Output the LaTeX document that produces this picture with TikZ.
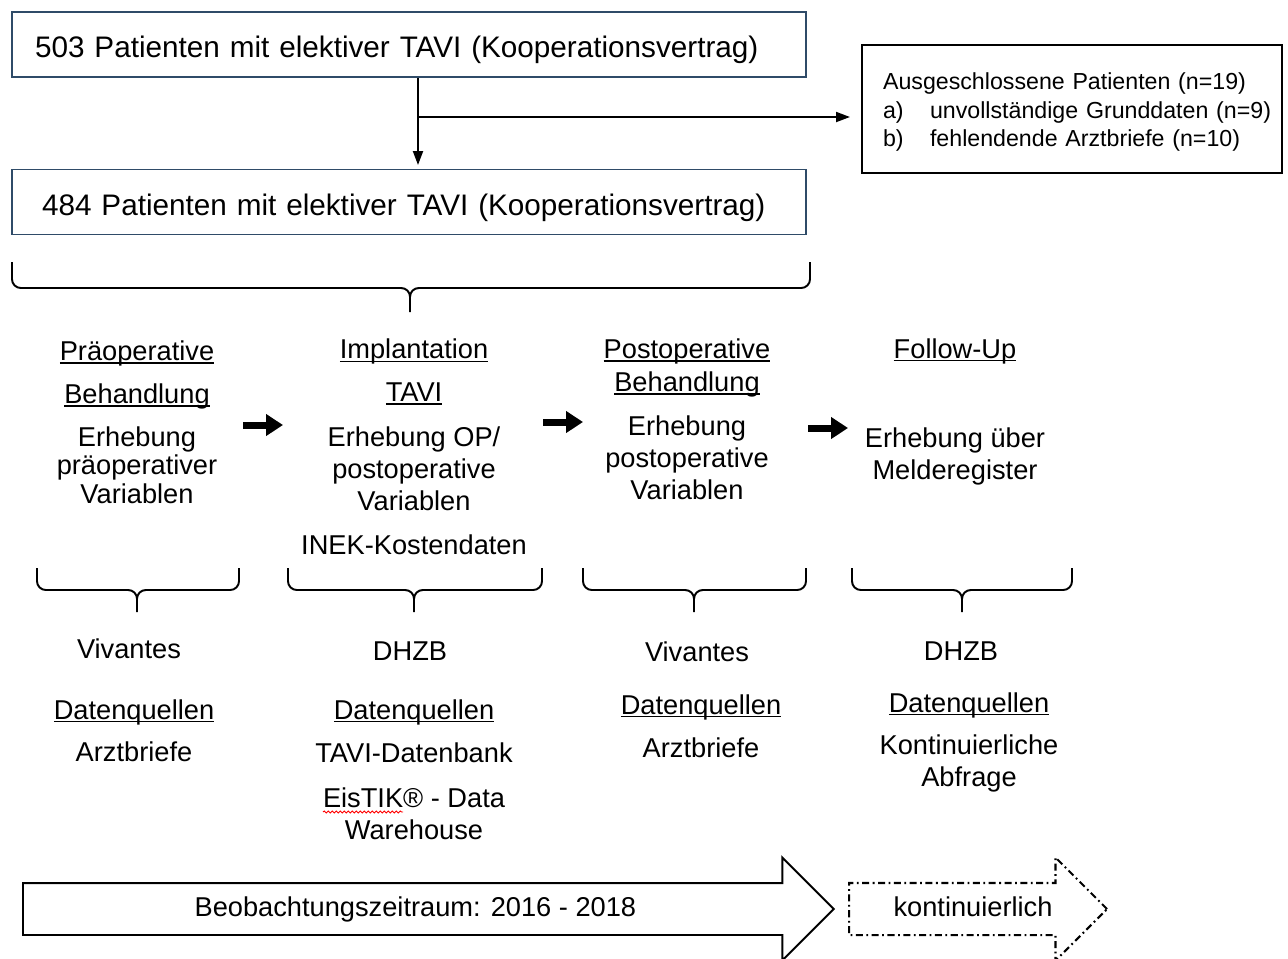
\documentclass[tikz,border=0pt]{standalone}
\usepackage{fontspec}
\setmainfont{Liberation Sans}
\usetikzlibrary{arrows.meta, shapes.arrows, decorations.pathmorphing, positioning}

\definecolor{boxblue}{HTML}{2F4B68}
\newcommand{\ftop}{\fontsize{16.9}{20}\selectfont}
\newcommand{\fbody}{\fontsize{15.5}{18.2}\selectfont}
\newcommand{\fsmall}{\fontsize{13.2}{16.1}\selectfont}
\newcommand{\uln}[1]{\setbox0\hbox{#1}\rlap{\rule[-1.8pt]{\wd0}{0.8pt}}\box0}
\newcommand{\groupbrace}[6]{%
  \draw[bracepath] (#1,#4) -- (#1,#5) -- (#3,#5) -- (#3,#6)
                   (#2,#4) -- (#2,#5) -- (#3,#5) -- (#3,#6);}

\begin{document}
\begin{tikzpicture}[
            x=0.02cm, y=-0.02cm,
            font=\fbody,
            % Styles
            topbox/.style={rectangle, draw=boxblue, line width=1.1pt, minimum width=15.88cm, minimum height=1.3cm, text height=15pt, text depth=0pt, align=left, font=\ftop},
            exclbox/.style={rectangle, draw, line width=1.2pt, minimum width=8.4cm, minimum height=2.56cm, inner xsep=0.42cm, text width=7.56cm, align=left, font=\fsmall},
            stage/.style={align=center, inner sep=0pt},
            flowarrow/.style={line width=1.1pt, -{Triangle[length=0.28cm, width=0.2cm]}},
            steparrow/.style={line width=0.14cm, -{Triangle[length=0.34cm, width=0.42cm]}},
            bracepath/.style={line width=1.1pt, rounded corners=5pt},
            spellwave/.style={red, line width=0.5pt, decorate, decoration={snake, segment length=0.08cm, amplitude=0.6pt}},
            periodarrow/.style={single arrow, draw, line width=1.1pt, text height=0.4cm, text depth=0.1cm, inner ysep=0.25cm, single arrow head extend=0.51cm, single arrow tip angle=90},
            contarrow/.style={periodarrow, line width=1.2pt, dash pattern=on 4pt off 2pt on 1pt off 2pt}
        ]
        \useasboundingbox (0,0) rectangle (1288,958);

        % --- PATIENT SELECTION ---
        \node (all) [topbox, inner xsep=0.46cm, text width=14.96cm] at (409,44.5) {503 Patienten mit elektiver TAVI (Kooperationsvertrag)};
        \node (sel) [topbox, inner xsep=0.6cm, text width=14.68cm] at (409,202) {484 Patienten mit elektiver TAVI (Kooperationsvertrag)};
        \node (excl) [exclbox] at (1072,109) {\mbox{\rule{0pt}{13pt}Ausgeschlossene Patienten (n=19)}\\
            \mbox{\makebox[0.94cm][l]{a)}unvollständige Grunddaten (n=9)}\\
            \mbox{\makebox[0.94cm][l]{b)}fehlendende Arztbriefe (n=10)}};

        \coordinate (split) at (418,117);
        \draw [flowarrow] (split |- all.south) -- ([yshift=2pt]split |- sel.north);
        \draw [flowarrow] (split) -- ([xshift=-0.22cm]split -| excl.west);

        \groupbrace{12}{810}{410}{262}{288}{312}

        % --- STAGES ---
        \node (pre) [stage] at (137,375) {\uln{Präoperative}\\[6.2pt]\uln{Behandlung}};
        \node (prevar) [stage] at (137,465) {Erhebung\\[-2pt]präoperativer\\[-2pt]Variablen};

        \node (impl) [stage] at (414,372) {\uln{Implantation}\\[6.2pt]\uln{TAVI}};
        \node (implvar) [stage] at (414,469) {Erhebung OP/\\postoperative\\Variablen};
        \node (inek) [stage] at (414,545) {INEK-Kostendaten};

        \node (post) [stage] at (687,368) {\uln{Postoperative}\\[0.6pt]\uln{Behandlung}};
        \node (postvar) [stage] at (687,458) {Erhebung\\postoperative\\Variablen};

        \node (fu) [stage] at (955,351) {\uln{Follow-Up}};
        \node (fuvar) [stage] at (955,456) {Erhebung über\\Melderegister};

        \coordinate (g1a) at (243,425); \coordinate (g1b) at (283,425);
        \coordinate (g2a) at (543,422); \coordinate (g2b) at (583,422);
        \coordinate (g3a) at (808,428); \coordinate (g3b) at (848,428);
        \draw [steparrow] (g1a) -- (g1b);
        \draw [steparrow] (g2a) -- (g2b);
        \draw [steparrow] (g3a) -- (g3b);

        \groupbrace{37}{239}{137}{568}{590}{612}
        \groupbrace{288}{542}{414}{568}{590}{612}
        \groupbrace{583}{806}{694}{568}{590}{612}
        \groupbrace{852}{1072}{962}{568}{590}{612}

        % --- DATA SOURCES ---
        \node (viv1) [stage] at (129,649) {Vivantes};
        \node (dq1) [stage] at (134,712) {\uln{Datenquellen}};
        \node (src1) [stage] at (134,752) {Arztbriefe};

        \node (dhzb1) [stage] at (410,651) {DHZB};
        \node (dq2) [stage] at (414,712) {\uln{Datenquellen}};
        \node (src2) [stage] at (414,753) {TAVI-Datenbank};
        \node (src2b) [stage] at (414,814) {EisTIK® - Data\\Warehouse};
        \coordinate (wave) at (323,812);
        \draw [spellwave] (wave) -- ++(80,0);

        \node (viv2) [stage] at (697,652) {Vivantes};
        \node (dq3) [stage] at (701,707) {\uln{Datenquellen}};
        \node (src3) [stage] at (701,748) {Arztbriefe};

        \node (dhzb2) [stage] at (961,651) {DHZB};
        \node (dq4) [stage] at (969,705) {\uln{Datenquellen}};
        \node (src4) [stage] at (969,763) {Kontinuierliche\\Abfrage};

        % --- TIME LINE ---
        \node (period) [periodarrow, minimum height=16.22cm, anchor=tail] at (22,909) {Beobachtungszeitraum: 2016 - 2018};
        \node (cont) [contarrow, minimum height=5.16cm, anchor=tail] at (848,909) {\hspace*{0.32cm}kontinuierlich};

        \end{tikzpicture}
\end{document}
